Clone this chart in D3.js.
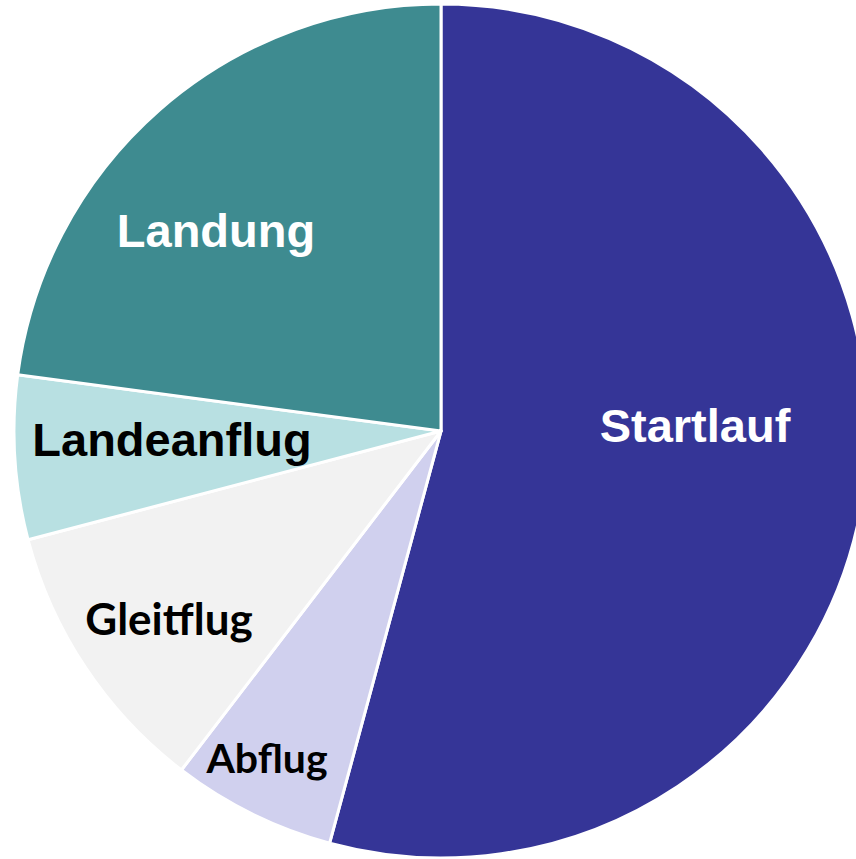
<!DOCTYPE html>
<html>
<head>
<meta charset="utf-8">
<script src="https://cdn.jsdelivr.net/npm/d3@7"></script>
<style>
  html, body { margin: 0; padding: 0; background: #fff; overflow: hidden; }
  .arialLabel { font-family: "Liberation Sans", Arial, sans-serif; font-weight: bold; }
  .calibriLabel { font-family: Lato, "Open Sans", sans-serif; font-weight: bold; }
</style>
</head>
<body>
<div id="chart"></div>
<script>
// phases of the flight, clockwise from 12 o'clock
var phases = ["Startlauf", "Abflug", "Gleitflug", "Landeanflug", "Landung"];
var shares = [54.2, 6.2, 10.5, 6.2, 22.9];
var colors = ["#353597", "#d0d0ee", "#f2f2f2", "#b8e0e2", "#3e8b90"];

var w = 856, h = 859;
var cx = 441, cy = 431, radius = 427;

// label placement (offset from centre), font and colour per phase
var labelStyle = {
  "Startlauf":   { dx: 254,  dy: 11,  size: 47, cls: "arialLabel",   fill: "#ffffff" },
  "Abflug":      { dx: -174, dy: 342, size: 41, cls: "calibriLabel", fill: "#000000" },
  "Gleitflug":   { dx: -272, dy: 204, size: 44, cls: "calibriLabel", fill: "#000000" },
  "Landeanflug": { dx: -269, dy: 25,  size: 47, cls: "arialLabel",   fill: "#000000" },
  "Landung":     { dx: -225, dy: -184, size: 47, cls: "arialLabel",  fill: "#ffffff" }
};

var data = phases.map(function(p, i){ return { name: p, value: shares[i], color: colors[i] }; });

var svg = d3.select("#chart")
  .append("svg")
  .attr("width", w)
  .attr("height", h);

var g = svg.append("g")
  .attr("transform", "translate(" + cx + "," + cy + ")");

var pie = d3.pie()
  .sort(null)
  .value(function(d){ return d.value; });

var arc = d3.arc()
  .innerRadius(0)
  .outerRadius(radius);

var slices = pie(data);

g.selectAll("path.slice")
  .data(slices)
  .enter()
  .append("path")
  .attr("class", "slice")
  .attr("d", arc)
  .style("fill", function(d){ return d.data.color; })
  .style("stroke", "#ffffff")
  .style("stroke-width", 3)
  .style("stroke-linejoin", "round");

g.selectAll("text.label")
  .data(slices)
  .enter()
  .append("text")
  .attr("class", function(d){ return "label " + labelStyle[d.data.name].cls; })
  .attr("x", function(d){ return labelStyle[d.data.name].dx; })
  .attr("y", function(d){ return labelStyle[d.data.name].dy; })
  .attr("text-anchor", "middle")
  .style("font-size", function(d){ return labelStyle[d.data.name].size + "px"; })
  .style("fill", function(d){ return labelStyle[d.data.name].fill; })
  .text(function(d){ return d.data.name; });
</script>
</body>
</html>
